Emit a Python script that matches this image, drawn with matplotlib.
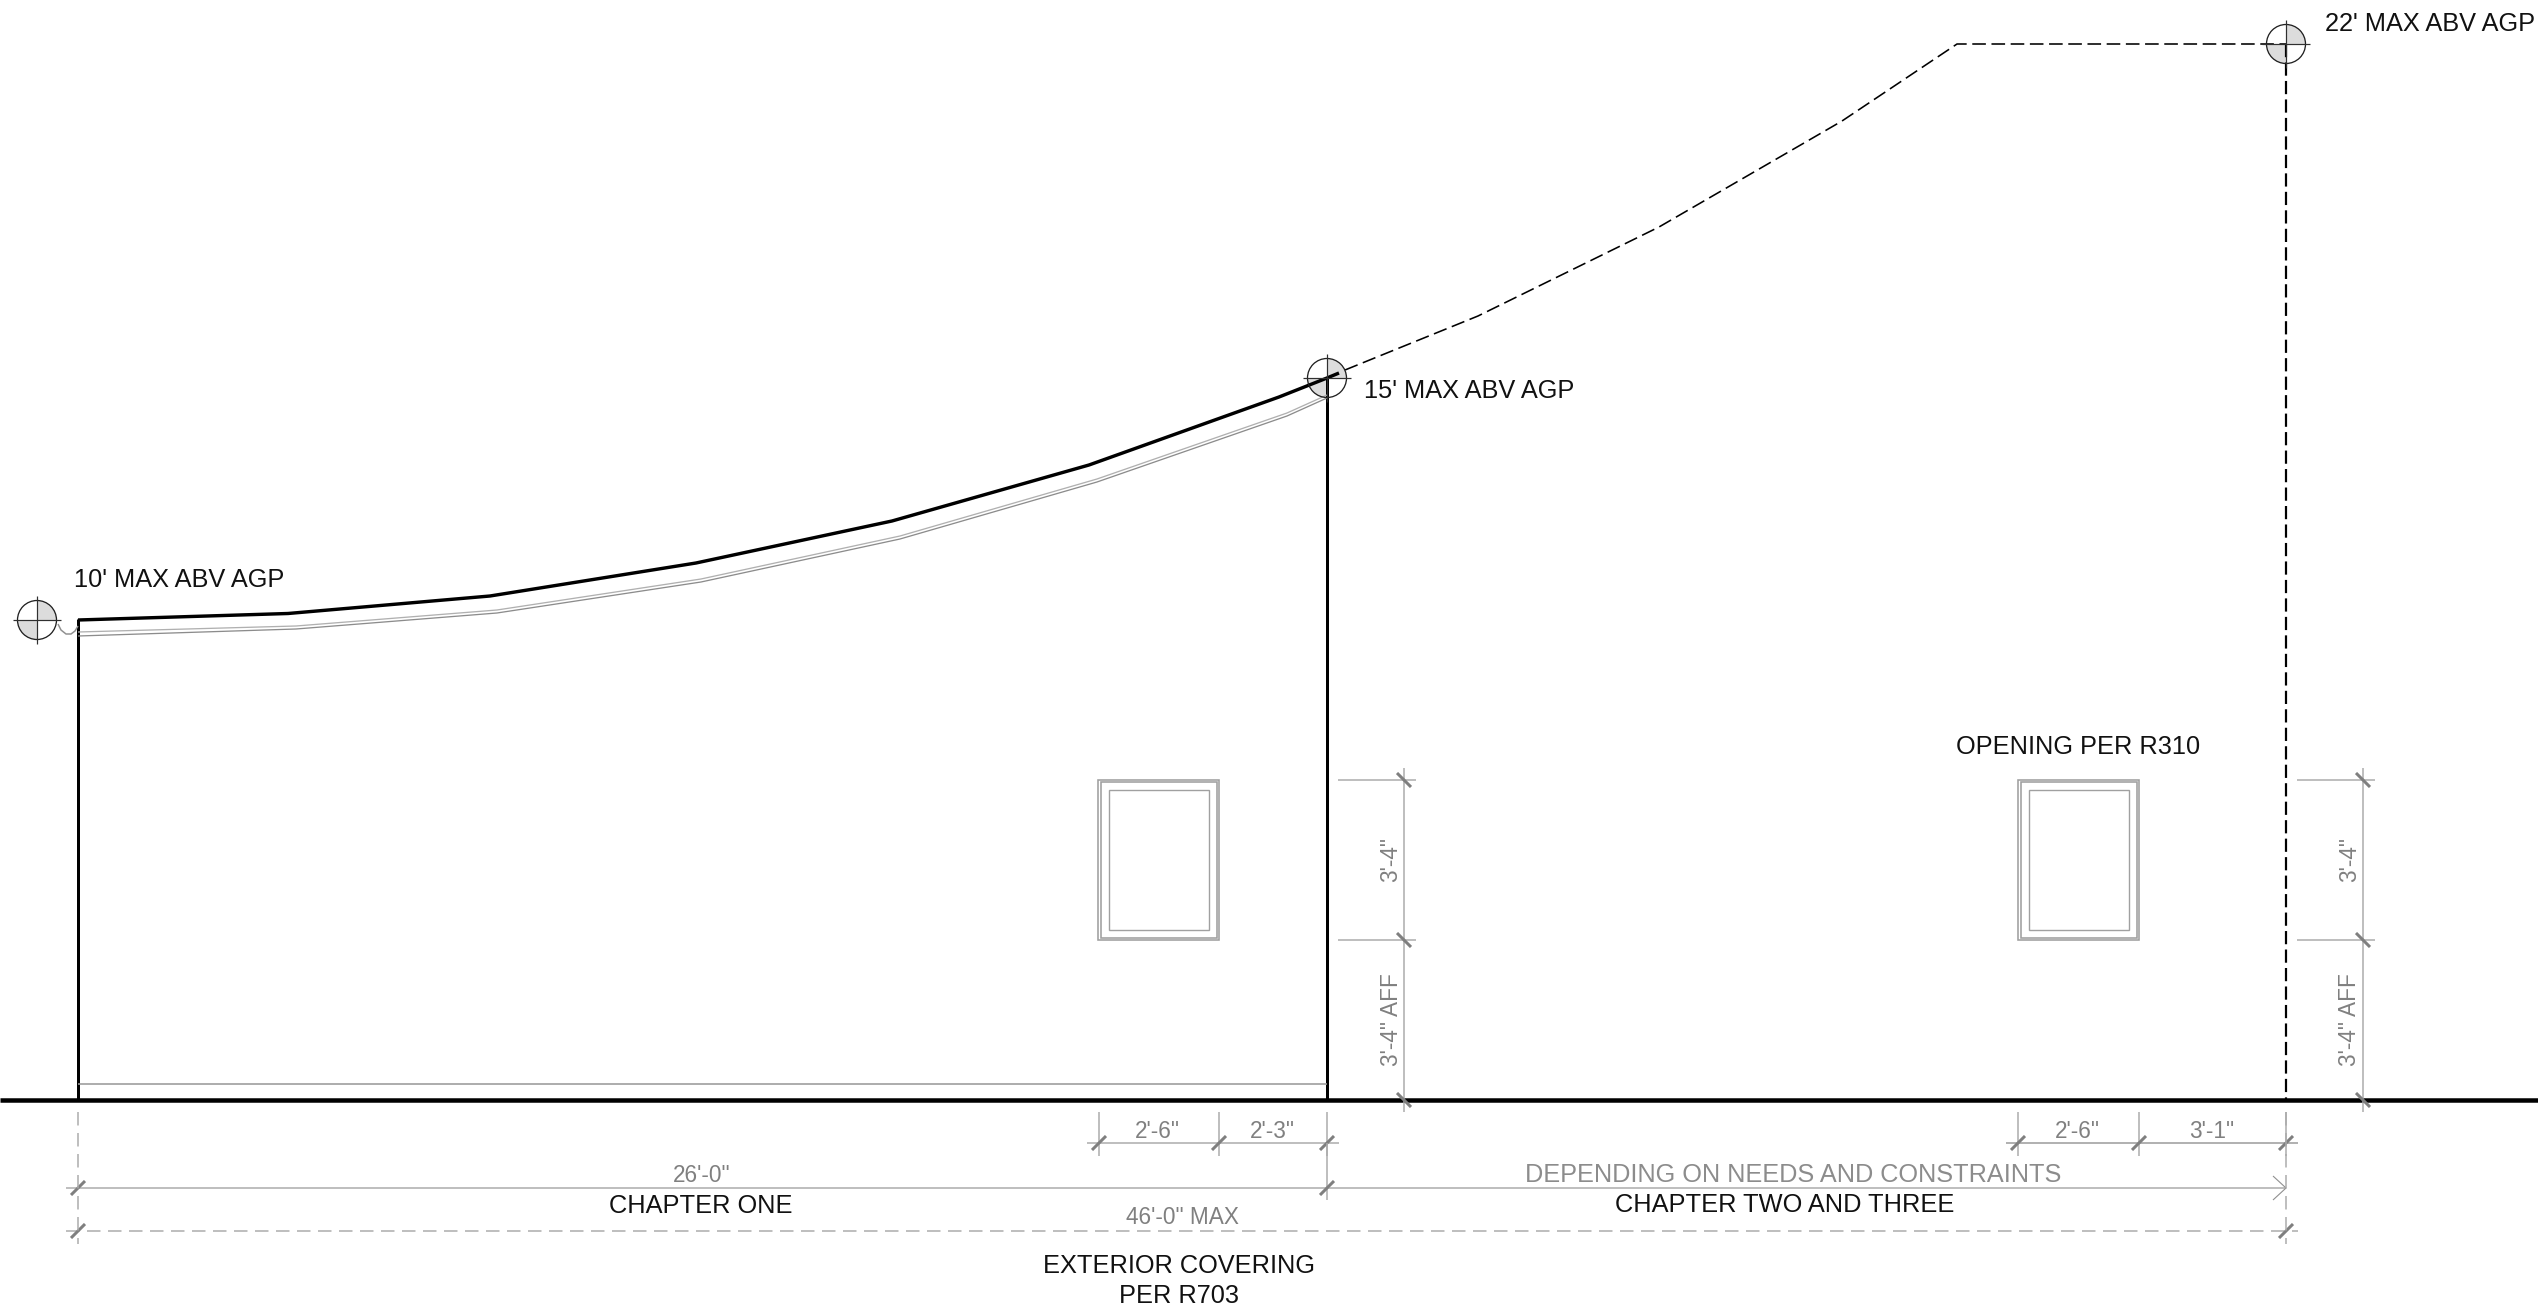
import matplotlib
matplotlib.use("Agg")
import matplotlib.pyplot as plt
from matplotlib.patches import Circle, Wedge, Rectangle
from matplotlib import font_manager as fm

names = {f.name for f in fm.fontManager.ttflist}
NARROW = "Liberation Sans Narrow" if "Liberation Sans Narrow" in names else "Liberation Sans"
NARROW_SIZE = 18.5 if NARROW != "Liberation Sans" else 16.3

# ---- drawing data (elevation, in picture pixels) ----
roof_x = [78, 288, 490, 696, 892, 1089, 1279, 1327, 1339]
roof_y = [620, 613.5, 596, 563, 521, 465, 397, 378, 373]
soffit_x = [78, 296, 497, 701, 900, 1097, 1287, 1327]
soffit1_y = [632, 626, 610, 579, 536, 479, 413, 395]
soffit2_y = [636, 629, 613, 582, 539, 482, 416, 398]
future_x = [1345, 1478, 1659, 1842, 1957, 2286]
future_y = [370, 316, 227, 121, 44, 44]
squiggle_x = [58, 61, 66, 71, 75, 78]
squiggle_y = [624, 630, 634, 634, 631, 626]
wall_left = 78
wall_right = 1327
wall_future = 2286
ground_y = 1100
eave_y = 620
ridge_y = 378
top_y = 44
base_y = 1084
window_left = [1098, 2018]
window_width = 121
sill_y = 940
head_y = 780
datums = [(37, 620), (1327, 378), (2286, 44)]
dim_v_x = [1404, 2363]
dim_v_ticks = [780, 940, 1100]
dim_row1_y = 1143
dim_row1_groups = [[1099, 1219, 1327], [2018, 2139, 2286]]
dim_row2_y = 1188
dim_row3_y = 1231

black_labels = ["10' MAX ABV AGP", "15' MAX ABV AGP", "22' MAX ABV AGP"]
black_labels_xy = [(74, 580), (1364, 391), (2325, 24)]
center_labels = ["OPENING PER R310", "CHAPTER ONE", "CHAPTER TWO AND THREE",
                 "EXTERIOR COVERING", "PER R703"]
center_labels_xy = [(2078, 747), (701, 1206), (1785, 1205), (1179, 1266), (1179, 1296)]
dim_labels = ["2'-6\"", "2'-3\"", "2'-6\"", "3'-1\"", "26'-0\"", "46'-0\" MAX"]
dim_labels_xy = [(1157, 1131), (1272, 1131), (2077, 1131), (2212, 1131), (702, 1176), (1182, 1218)]
v_labels = ["3'-4\"", "3'-4\" AFF", "3'-4\"", "3'-4\" AFF"]
v_labels_xy = [(1391, 860), (1391, 1020), (2350, 860), (2350, 1020)]

BLACK = "#000000"
GREY_TICK = "#7f7f7f"
GREY_LINE = "#ababab"
GREY_TXT = "#808080"
GREY_WIN = "#a0a0a0"
px = 72 / 100  # one picture pixel in points

plt.rcParams["font.family"] = ["Liberation Sans", "DejaVu Sans"]
fig = plt.figure(figsize=(25.38, 13.11), dpi=100)
ax = fig.add_axes([0, 0, 1, 1])
ax.set_xlim(0, 2538)
ax.set_ylim(1311, 0)
ax.axis("off")


def line(xs, ys, color=BLACK, w=1.5, **kw):
    kw.setdefault("solid_capstyle", "butt")
    ax.plot(xs, ys, color=color, lw=w * px, **kw)


def tick(x, y, back=False):
    d = 7 if not back else -7
    line([x - 7, x + 7], [y + d, y - d], GREY_TICK, 3)


# building
line(roof_x, roof_y, BLACK, 3.4, solid_joinstyle="round")
line([wall_left, wall_left], [eave_y - 1, ground_y], BLACK, 3)
line([wall_right, wall_right], [ridge_y, ground_y], BLACK, 3)
line(soffit_x, soffit1_y, "#b0b0b0", 1.3)
line(soffit_x, soffit2_y, "#8c8c8c", 1.3)
line(squiggle_x, squiggle_y, "#909090", 1.5)
line([wall_left, wall_right], [base_y, base_y], "#9a9a9a", 1.6)

# future roof and wall
line(future_x, future_y, BLACK, 1.6, linestyle=(0, (8.5, 3.5)))
line([wall_future, wall_future], [top_y, ground_y], BLACK, 2.2, linestyle=(0, (6, 2.4)))

# ground
line([0, 2538], [ground_y, ground_y], BLACK, 4.5)

# windows
for wx in window_left:
    for inset, w in ((0, 1.6), (2.5, 1.6), (10.5, 1.4)):
        ax.add_patch(Rectangle((wx + inset, head_y + inset * 0.95), window_width - 2 * inset,
                               sill_y - head_y - 2 * inset * 0.95,
                               fill=False, ec=GREY_WIN, lw=w * px))

# vertical dimensions
for vx in dim_v_x:
    line([vx, vx], [head_y - 12, ground_y + 12], GREY_LINE, 1.5)
    for vy in dim_v_ticks[:2]:
        line([vx - 66, vx + 12], [vy, vy], GREY_LINE, 1.5)
    for vy in dim_v_ticks:
        tick(vx, vy, back=True)

# first dimension row
for group in dim_row1_groups:
    line([group[0] - 12, group[-1] + 12], [dim_row1_y, dim_row1_y], GREY_LINE if group[0] < 2000 else "#999999", 1.5)
    for gx in group:
        line([gx, gx], [ground_y + 12, dim_row1_y + 13], GREY_LINE, 1.5)
        tick(gx, dim_row1_y)

# second row
line([wall_left - 12, wall_future], [dim_row2_y, dim_row2_y], GREY_LINE, 1.5)
line([wall_right, wall_right], [dim_row1_y, dim_row2_y + 12], GREY_LINE, 1.5)
tick(wall_left, dim_row2_y)
tick(wall_right, dim_row2_y)
line([wall_future - 13, wall_future, wall_future - 13],
     [dim_row2_y - 12, dim_row2_y, dim_row2_y + 12], "#8f8f8f", 1.1)

# third row (dashed)
line([wall_left - 12, wall_future + 12], [dim_row3_y, dim_row3_y], GREY_LINE, 1.5, linestyle=(0, (9, 5)))
tick(wall_left, dim_row3_y)
tick(wall_future, dim_row3_y)

# dashed extension lines
for ex in (wall_left, wall_future):
    line([ex, ex], [ground_y + 12, dim_row3_y + 13], GREY_LINE, 1.5, linestyle=(0, (9, 5)))

# level datums
for cx, cy in datums:
    ax.add_patch(Wedge((cx, cy), 19.5, 270, 360, fc="#dcdcdc", ec="none", zorder=1.5))
    ax.add_patch(Wedge((cx, cy), 19.5, 90, 180, fc="#dcdcdc", ec="none", zorder=1.5))
    ax.add_patch(Circle((cx, cy), 19.5, fill=False, ec="#202020", lw=1.3 * px, zorder=3))
    line([cx - 24, cx + 24], [cy, cy], "#303030", 1.2, zorder=3)
    line([cx, cx], [cy - 24, cy + 24], "#303030", 1.2, zorder=3)

# texts
for s, (x, y) in zip(black_labels, black_labels_xy):
    ax.text(x, y, s, fontsize=18.3, color="#111111", ha="left", va="center")
for s, (x, y) in zip(center_labels, center_labels_xy):
    ax.text(x, y, s, fontsize=18.3, color="#111111", ha="center", va="center")
for s, (x, y) in zip(dim_labels, dim_labels_xy):
    ax.text(x, y, s, fontsize=NARROW_SIZE, family=NARROW, color=GREY_TXT, ha="center", va="center")
for s, (x, y) in zip(v_labels, v_labels_xy):
    ax.text(x, y, s, fontsize=NARROW_SIZE, family=NARROW, color=GREY_TXT, ha="center", va="center", rotation=90)
ax.text(1793, 1175, "DEPENDING ON NEEDS AND CONSTRAINTS", fontsize=18.2, color="#8c8c8c", ha="center", va="center")

fig.savefig("out.png", dpi=100, facecolor="white")
